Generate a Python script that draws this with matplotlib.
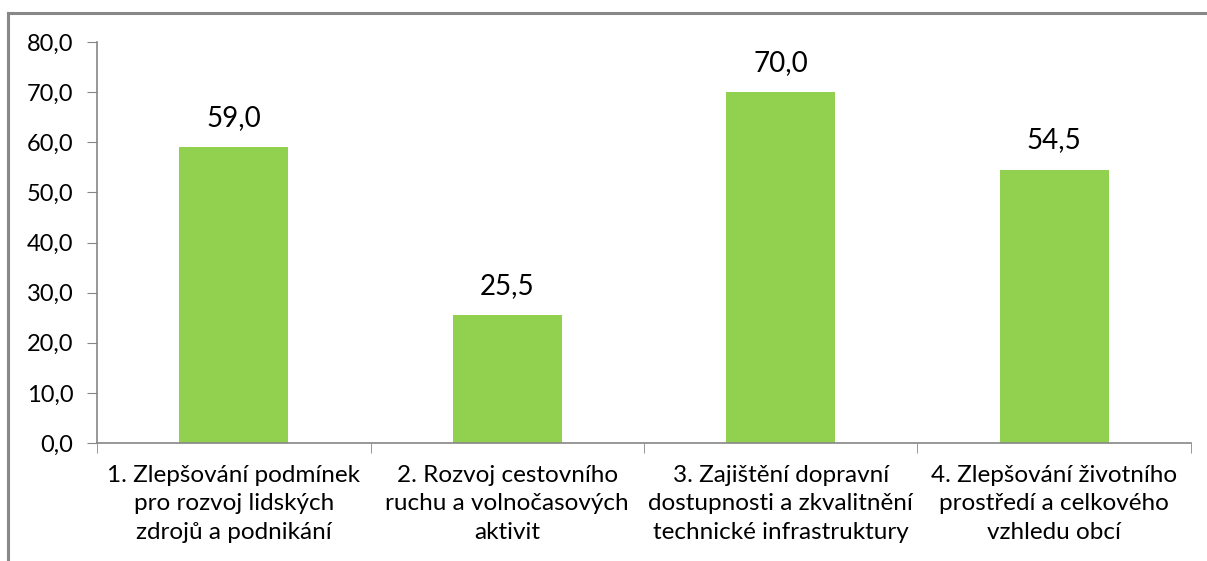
import matplotlib
matplotlib.use("Agg")
import matplotlib.pyplot as plt
from matplotlib.lines import Line2D
import numpy as np

categories = [
    "1. Zlepšování podmínek\npro rozvoj lidských\nzdrojů a podnikání",
    "2. Rozvoj cestovního\nruchu a volnočasových\naktivit",
    "3. Zajištění dopravní\ndostupnosti a zkvalitnění\ntechnické infrastruktury",
    "4. Zlepšování životního\nprostředí a celkového\nvzhledu obcí",
]
values = [59.0, 25.5, 70.0, 54.5]
yticks = [0, 10, 20, 30, 40, 50, 60, 70, 80]

plt.rcParams["font.family"] = ["Lato", "DejaVu Sans"]

fig = plt.figure(figsize=(12.07, 5.61), dpi=100)
ax = fig.add_axes([0.0804, 0.2103, 0.9063, 0.7148])

x = np.arange(len(categories))
ax.bar(x, values, width=0.4, color="#92D050", zorder=2)
for xi, v in zip(x, values):
    ax.text(xi, v + 3.3, "{:.1f}".format(v).replace(".", ","), ha="center",
            va="bottom", fontsize=20, color="black")

ax.set_xlim(-0.5, len(categories) - 0.5)
ax.set_ylim(0, 80)
ax.set_yticks(yticks)
ax.set_yticklabels(["{:.1f}".format(t).replace(".", ",") for t in yticks],
                   fontsize=17)
ax.set_xticks(x)
ax.set_xticklabels(categories, fontsize=17.5, linespacing=1.42)
ax.set_xticks(np.arange(-0.5, len(categories)), minor=True)
ax.tick_params(axis="x", which="major", length=0, pad=16)
ax.tick_params(axis="x", which="minor", length=7, direction="out",
               color="#868686")
ax.tick_params(axis="y", length=7, color="#868686", pad=10)

for s in ["top", "right"]:
    ax.spines[s].set_visible(False)
for s in ["left", "bottom"]:
    ax.spines[s].set_color("#868686")
    ax.spines[s].set_linewidth(1.2)

# outer chart frame (right and bottom edges are cut off in the original)
fig.add_artist(Line2D([8 / 1207, 8 / 1207], [0, 1 - 13 / 561],
                      transform=fig.transFigure, color="#888888", lw=2.2))
fig.add_artist(Line2D([8 / 1207, 1], [1 - 13 / 561, 1 - 13 / 561],
                      transform=fig.transFigure, color="#888888", lw=2.2))

fig.savefig("out.png", dpi=100)
